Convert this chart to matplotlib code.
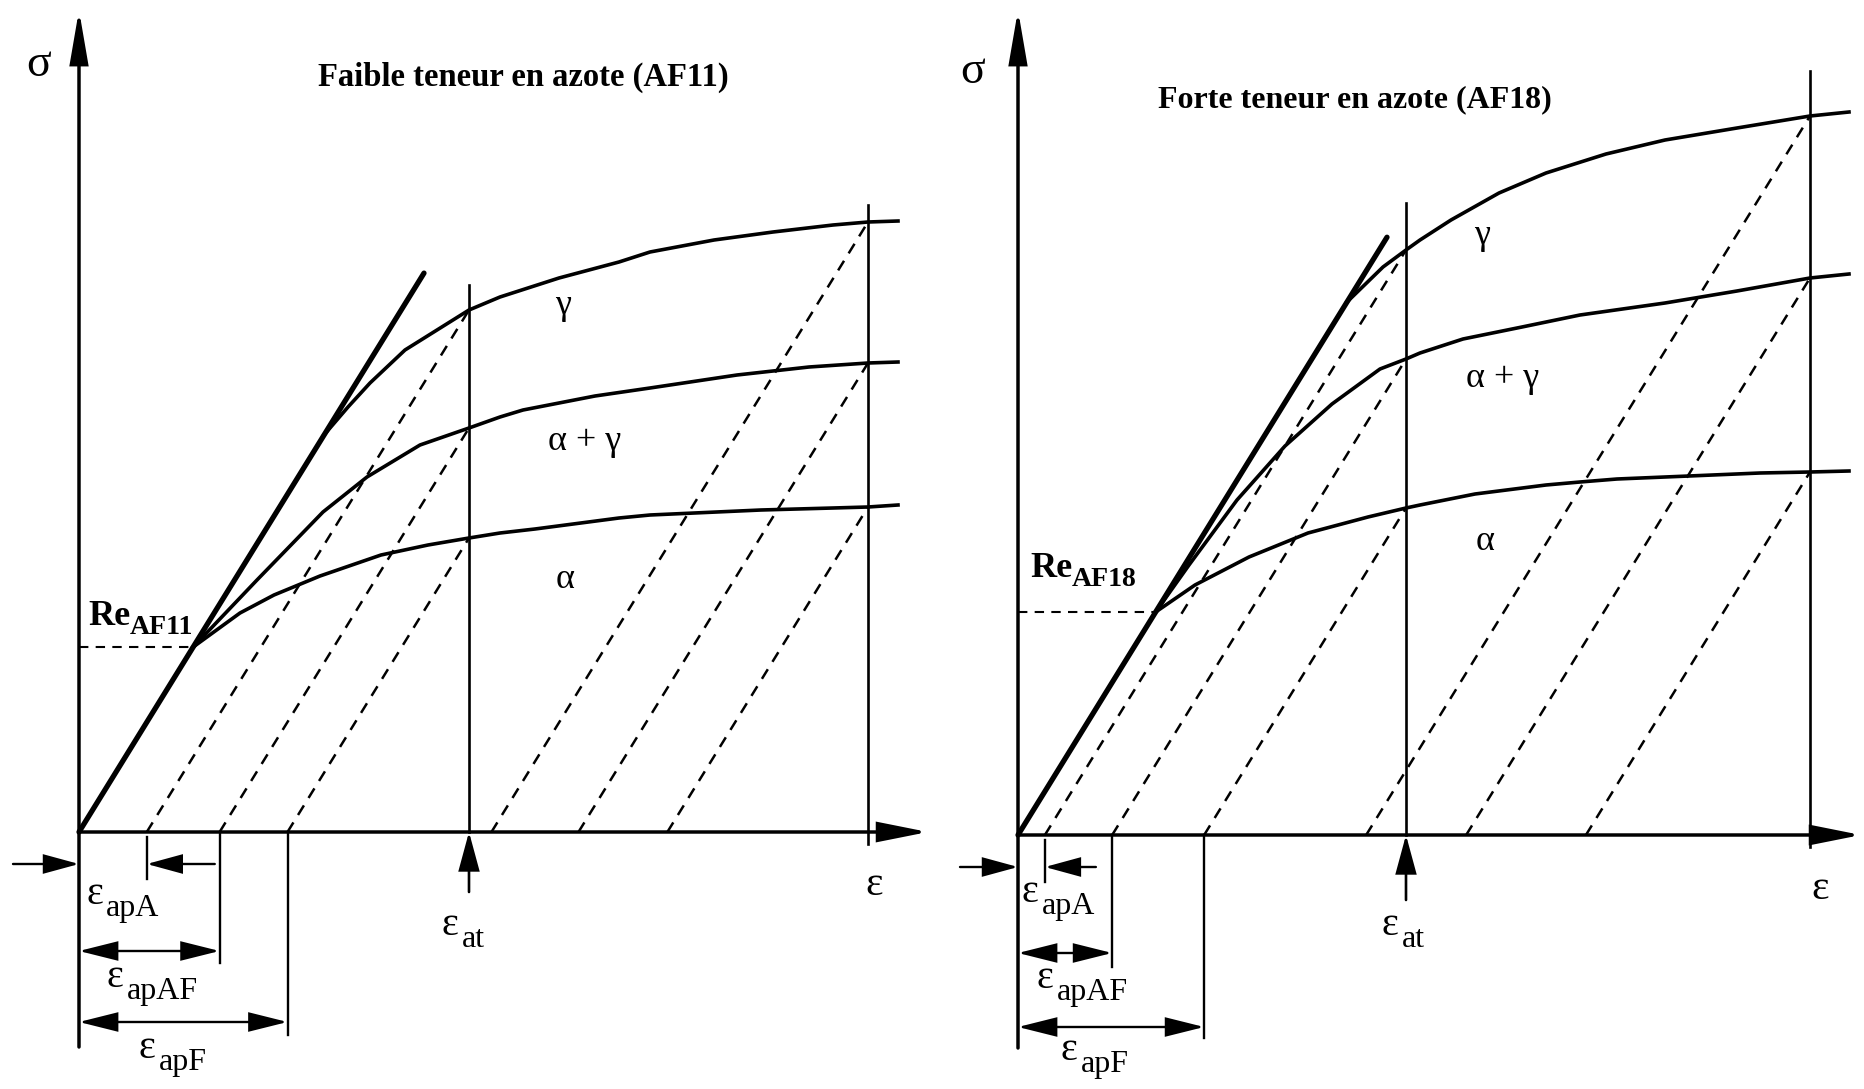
import numpy as np
import matplotlib
matplotlib.use("Agg")
import matplotlib.pyplot as plt

SERIF = ["Liberation Serif", "DejaVu Serif"]
plt.rcParams["font.family"] = SERIF

# Strain (eps) and stress (sigma) in arbitrary units.
# ---- AF11 : faible teneur en azote ----
e_young_af11 = 1.62
re_af11 = 1.85
eps_at_af11 = 3.90
eps_end_af11 = 7.89
elastic_top_af11 = 3.45
gamma_eps_af11 = [2.45, 2.69, 2.91, 3.26, 3.90, 4.21, 4.80, 5.40, 5.71, 6.35, 6.94, 7.54, 7.89, 8.19]
gamma_sig_af11 = [3.97, 4.25, 4.49, 4.82, 5.22, 5.35, 5.54, 5.70, 5.80, 5.92, 6.00, 6.07, 6.10, 6.11]
ag_eps_af11 = [1.78, 2.44, 2.88, 3.41, 3.90, 4.21, 4.44, 5.16, 5.71, 6.58, 7.30, 7.89, 8.19]
ag_sig_af11 = [2.52, 3.20, 3.55, 3.87, 4.04, 4.15, 4.22, 4.36, 4.44, 4.57, 4.65, 4.69, 4.70]
a_eps_af11 = [1.61, 1.95, 2.41, 3.02, 3.49, 3.90, 4.21, 4.56, 5.40, 5.71, 6.82, 7.54, 7.89, 8.19]
a_sig_af11 = [2.19, 2.37, 2.56, 2.77, 2.87, 2.94, 2.99, 3.03, 3.14, 3.17, 3.22, 3.24, 3.25, 3.27]

# ---- AF18 : forte teneur en azote ----
e_young_af18 = 1.62
re_af18 = 2.23
eps_at_af18 = 3.88
eps_end_af18 = 7.92
elastic_top_af18 = 3.69
gamma_eps_af18 = [3.29, 3.65, 3.88, 4.02, 4.33, 4.81, 5.28, 5.88, 6.47, 7.19, 7.92, 8.31]
gamma_sig_af18 = [5.33, 5.68, 5.85, 5.95, 6.15, 6.42, 6.62, 6.81, 6.95, 7.07, 7.19, 7.23]
ag_eps_af18 = [1.71, 2.19, 2.67, 3.14, 3.62, 3.88, 4.02, 4.45, 5.04, 5.62, 6.47, 7.19, 7.92, 8.31]
ag_sig_af18 = [2.70, 3.35, 3.89, 4.31, 4.66, 4.76, 4.82, 4.96, 5.08, 5.20, 5.32, 5.44, 5.57, 5.61]
a_eps_af18 = [1.77, 2.31, 2.90, 3.50, 3.88, 4.02, 4.57, 5.28, 5.62, 5.99, 6.71, 7.42, 7.92, 8.31]
a_sig_af18 = [2.50, 2.78, 3.02, 3.18, 3.27, 3.30, 3.41, 3.50, 3.53, 3.56, 3.59, 3.62, 3.63, 3.64]

W, H, DPI = 1865, 1089, 100
K = "black"

fig = plt.figure(figsize=(W / DPI, H / DPI), dpi=DPI)
fig.patch.set_facecolor("white")


def panel_axes(ox, oy):
    """Full-figure axes, 1 unit = 100 px, origin at pixel (ox, oy)."""
    ax = fig.add_axes([0, 0, 1, 1])
    ax.set_xlim(-ox / 100, (W - ox) / 100)
    ax.set_ylim(-(H - oy) / 100, oy / 100)
    ax.axis("off")
    ax.patch.set_alpha(0)
    return ax


def arrow(ax, tail, tip, lw=1.6, hl=24, hw=5.5, style="-|>"):
    ax.annotate("", xy=tip, xytext=tail,
                arrowprops=dict(arrowstyle=f"{style},head_length={hl},head_width={hw}",
                                lw=lw, color=K, shrinkA=0, shrinkB=0,
                                mutation_scale=1, joinstyle="miter"))


def eps_label(ax, x, y, sub):
    ax.text(x, y, "ε", fontsize=29, ha="left", va="baseline", color=K)
    ax.annotate(sub, xy=(x, y), xytext=(14.5, -8.5), textcoords="offset points",
                fontsize=23, ha="left", va="baseline", color=K)


def draw_panel(ax, E, re, eps_at, eps_end, el_top, curves, lay):
    dash = (0, (4.5, 3.5))
    # axes arrows
    arrow(ax, (0, lay["ybot"]), (0, lay["ytip"]), lw=2.5, hl=32, hw=5.5)
    arrow(ax, (0, 0), (lay["xtip"], 0), lw=2.5, hl=30, hw=6)

    # elastic line
    ax.plot([0, el_top], [0, E * el_top], color=K, lw=3.8, solid_capstyle="round")

    # yield point Re
    x_re = re / E
    ax.plot([0, x_re], [re, re], color=K, lw=1.5, ls=dash)

    # flow curves
    starts = {"gamma": None, "ag": (x_re, re), "a": (x_re, re)}
    intercepts = {}
    for key, (xs, ys) in curves.items():
        xs = list(xs)
        ys = list(ys)
        if starts[key] is not None:
            xs = [starts[key][0]] + xs
            ys = [starts[key][1]] + ys
        ax.plot(xs, ys, color=K, lw=2.6, solid_joinstyle="round")
        s_at = np.interp(eps_at, xs, ys)
        s_end = np.interp(eps_end, xs, ys)
        i_at = eps_at - s_at / E
        i_end = eps_end - s_end / E
        intercepts[key] = i_at
        ax.plot([i_at, eps_at], [0, s_at], color=K, lw=1.8, ls=dash)
        ax.plot([i_end, eps_end], [0, s_end], color=K, lw=1.8, ls=dash)

    # vertical reference lines
    ax.plot([eps_at, eps_at], [0, lay["at_top"]], color=K, lw=1.9)
    ax.plot([eps_end, eps_end], [lay["end_bot"], lay["end_top"]], color=K, lw=1.9)

    # phase labels
    for txt, (x, y) in lay["phases"]:
        ax.text(x, y, txt, fontsize=26, ha="center", va="baseline", color=K)

    # dimension lines for the apparent strains
    apA, apAF, apF = intercepts["gamma"], intercepts["ag"], intercepts["a"]
    r1, r2, r3 = lay["rows"]
    ax.plot([apA, apA], [-0.05, lay["tick_bot"][0]], color=K, lw=1.7)
    ax.plot([apAF, apAF], [0, lay["tick_bot"][1]], color=K, lw=1.7)
    ax.plot([apF, apF], [0, lay["tick_bot"][2]], color=K, lw=1.7)
    arrow(ax, (lay["entry"], r1), (0, r1), lw=1.7, hl=22, hw=6)
    arrow(ax, (apA + lay["pointer"], r1), (apA, r1), lw=1.7, hl=22, hw=6)
    arrow(ax, (0, r2), (apAF, r2), lw=1.7, hl=24, hw=6, style="<|-|>")
    arrow(ax, (0, r3), (apF, r3), lw=1.7, hl=24, hw=6, style="<|-|>")
    arrow(ax, (eps_at, lay["at_arrow"]), (eps_at, 0), lw=1.9, hl=24, hw=6.5)

    for (x, y), sub in zip(lay["eps_pos"], ["apA", "apAF", "apF", "at"]):
        eps_label(ax, x, y, sub)

    # axis names
    ax.text(*lay["eps_axis"], "ε", fontsize=30, ha="center", va="baseline", color=K)
    ax.text(*lay["sigma"], "σ", fontsize=33, ha="center", va="baseline", color=K)

    # title and yield label
    ax.text(*lay["title_pos"], lay["title"], fontsize=lay["title_size"], fontweight="bold",
            ha="center", va="baseline", color=K)
    rx, ry = lay["re_pos"]
    ax.text(rx, ry, "Re", fontsize=26, fontweight="bold", ha="left", va="baseline", color=K)
    ax.annotate(lay["re_sub"], xy=(rx, ry), xytext=(30, -6.5), textcoords="offset points",
                fontsize=20, fontweight="bold", ha="left", va="baseline", color=K)


ax_l = panel_axes(79, 832)
draw_panel(
    ax_l, e_young_af11, re_af11, eps_at_af11, eps_end_af11, elastic_top_af11,
    {"gamma": (gamma_eps_af11, gamma_sig_af11),
     "ag": (ag_eps_af11, ag_sig_af11),
     "a": (a_eps_af11, a_sig_af11)},
    dict(ybot=-2.15, ytip=8.22, xtip=8.49, at_top=5.47, end_top=6.27, end_bot=-0.12,
         phases=[("γ", (4.84, 5.18)), ("α + γ", (5.06, 3.82)), ("α", (4.86, 2.44))],
         rows=(-0.32, -1.19, -1.90), tick_bot=(-0.47, -1.31, -2.03),
         entry=-0.66, pointer=0.68, at_arrow=-0.60,
         eps_pos=[(0.07, -0.72), (0.28, -1.55), (0.60, -2.26), (3.63, -1.03)],
         eps_axis=(7.95, -0.63), sigma=(-0.40, 7.56),
         title="Faible teneur en azote (AF11)", title_pos=(4.44, 7.46), title_size=23.5,
         re_pos=(0.09, 2.07), re_sub="AF11"),
)

ax_r = panel_axes(1018, 835)
draw_panel(
    ax_r, e_young_af18, re_af18, eps_at_af18, eps_end_af18, elastic_top_af18,
    {"gamma": (gamma_eps_af18, gamma_sig_af18),
     "ag": (ag_eps_af18, ag_sig_af18),
     "a": (a_eps_af18, a_sig_af18)},
    dict(ybot=-2.13, ytip=8.25, xtip=8.43, at_top=6.32, end_top=7.64, end_bot=-0.12,
         phases=[("γ", (4.64, 5.91)), ("α + γ", (4.85, 4.48)), ("α", (4.67, 2.85))],
         rows=(-0.32, -1.18, -1.92), tick_bot=(-0.47, -1.32, -2.03),
         entry=-0.58, pointer=0.51, at_arrow=-0.65,
         eps_pos=[(0.04, -0.67), (0.19, -1.53), (0.43, -2.25), (3.64, -1.00)],
         eps_axis=(8.02, -0.64), sigma=(-0.45, 7.52),
         title="Forte teneur en azote (AF18)", title_pos=(3.37, 7.28), title_size=23,
         re_pos=(0.12, 2.58), re_sub="AF18"),
)

fig.savefig("out.png", dpi=DPI, facecolor="white")
